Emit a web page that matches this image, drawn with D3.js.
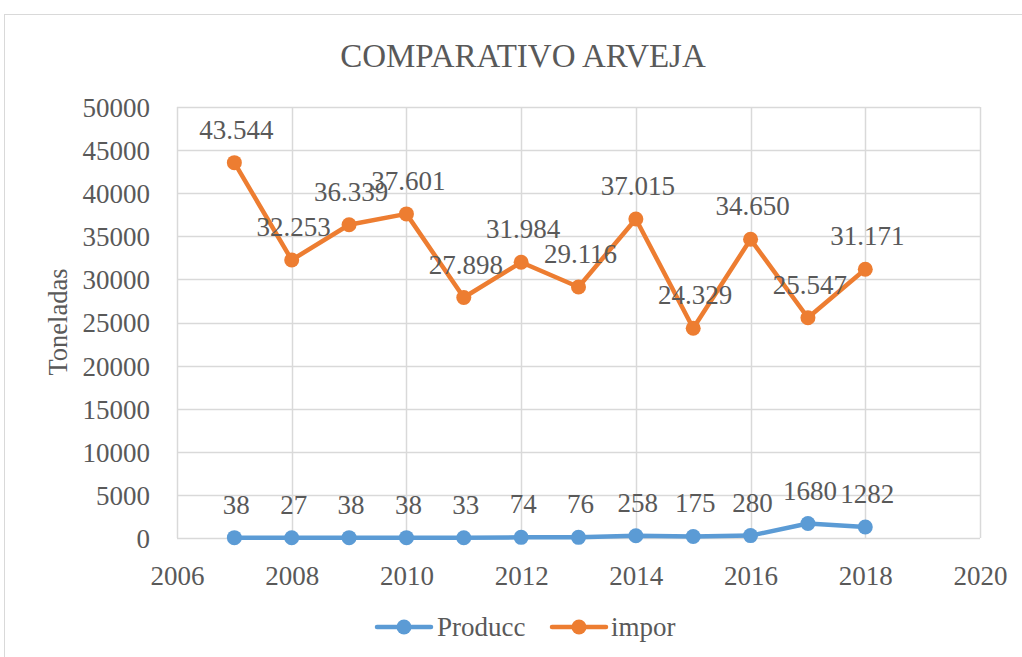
<!DOCTYPE html>
<html><head><meta charset="utf-8">
<script src="https://cdn.jsdelivr.net/npm/d3@7"></script>
<style>
html,body{margin:0;padding:0;background:#fff;}
svg text{font-family:"Liberation Serif","Times New Roman",serif;fill:#595959;}
</style></head>
<body><svg id="c" width="1022" height="657"></svg>
<script>
const years = [2007,2008,2009,2010,2011,2012,2013,2014,2015,2016,2017,2018];
const producc = [38,27,38,38,33,74,76,258,175,280,1680,1282];
const impor = [43544,32253,36339,37601,27898,31984,29116,37015,24329,34650,25547,31171];
const xTicks = [2006,2008,2010,2012,2014,2016,2018,2020];
const yTicks = [0,5000,10000,15000,20000,25000,30000,35000,40000,45000,50000];
const seriesNames = ["Producc","impor"];
const colors = ["#5B9BD5","#ED7D31"];

const svg = d3.select("#c");
svg.append("rect").attr("x",4.5).attr("y",14.5).attr("width",1040).attr("height",680)
  .attr("fill","#fff").attr("stroke","#D9D9D9").attr("stroke-width",1);

const L=177, R=980, T=107, B=538;
const x = d3.scaleLinear().domain([2006,2020]).range([L,R]);
const y = d3.scaleLinear().domain([0,50000]).range([B,T]);

// grid
svg.append("g").selectAll("line").data(yTicks).join("line")
  .attr("x1",L).attr("x2",R).attr("y1",d=>Math.round(y(d))+0.5).attr("y2",d=>Math.round(y(d))+0.5)
  .attr("stroke","#D9D9D9").attr("stroke-width",1.5);
svg.append("g").selectAll("line").data(xTicks).join("line")
  .attr("y1",T).attr("y2",B).attr("x1",d=>Math.round(x(d))+0.5).attr("x2",d=>Math.round(x(d))+0.5)
  .attr("stroke","#D9D9D9").attr("stroke-width",1.5);

// axes via d3 axis
const yAxis = svg.append("g").attr("transform",`translate(${L-24},0)`)
  .call(d3.axisLeft(y).tickValues(yTicks).tickSize(0).tickFormat(d3.format("d")));
yAxis.select(".domain").remove();
yAxis.selectAll("text").attr("font-size",27).attr("fill","#595959").attr("dy","0.35em")
  .attr("font-family","Liberation Serif");
const xAxis = svg.append("g").attr("transform",`translate(0,${B+24})`)
  .call(d3.axisBottom(x).tickValues(xTicks).tickSize(0).tickFormat(d3.format("d")));
xAxis.select(".domain").remove();
xAxis.selectAll("text").attr("font-size",27).attr("fill","#595959").attr("dy","0.73em")
  .attr("font-family","Liberation Serif");

// title
svg.append("text").attr("x",523).attr("y",67).attr("text-anchor","middle")
  .attr("font-size",33).text("COMPARATIVO ARVEJA");
// y-axis title
svg.append("text").attr("transform",`translate(67,322) rotate(-90)`).attr("text-anchor","middle")
  .attr("font-size",26.5).text("Toneladas");

const data = [producc, impor];
const fmtDot = v => d3.format(",")(v).replace(/,/g,".");
const fmts = [d3.format("d"), fmtDot];
const line = d3.line().x((d,i)=>x(years[i])).y(d=>y(d));

data.forEach((vals,s)=>{
  const g = svg.append("g");
  g.append("path").attr("d",line(vals)).attr("fill","none").attr("stroke",colors[s])
    .attr("stroke-width",4.5).attr("stroke-linejoin","round").attr("stroke-linecap","round");
  g.selectAll("circle").data(vals).join("circle")
    .attr("cx",(d,i)=>x(years[i])).attr("cy",d=>y(d)).attr("r",7.5).attr("fill",colors[s]);
});
data.forEach((vals,s)=>{
  svg.append("g").selectAll("text").data(vals).join("text")
    .attr("x",(d,i)=>x(years[i])+2).attr("y",d=>y(d)-24).attr("text-anchor","middle")
    .attr("font-size",27).text(d=>fmts[s](d));
});

// legend
const legItems = [{x0:377,x1:431,tx:437},{x0:552,x1:606,tx:611}];
legItems.forEach((it,s)=>{
  svg.append("line").attr("x1",it.x0).attr("x2",it.x1).attr("y1",627).attr("y2",627)
    .attr("stroke",colors[s]).attr("stroke-width",4.5).attr("stroke-linecap","round");
  svg.append("circle").attr("cx",(it.x0+it.x1)/2).attr("cy",627).attr("r",7.5).attr("fill",colors[s]);
  svg.append("text").attr("x",it.tx).attr("y",636).attr("font-size",27).text(seriesNames[s]);
});
</script></body></html>
